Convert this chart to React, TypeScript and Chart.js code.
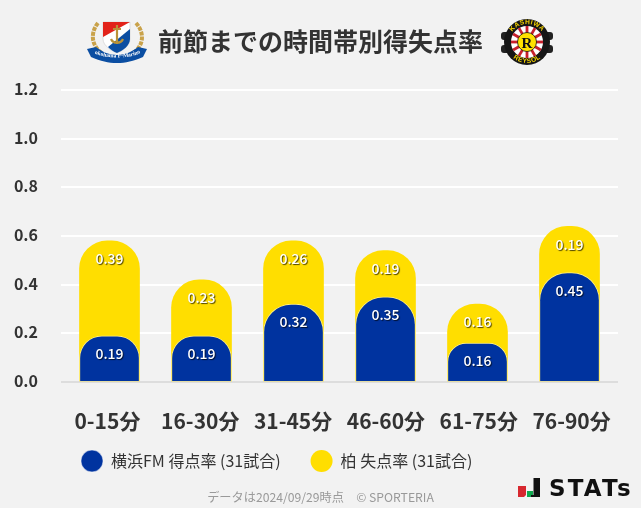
import React, { useEffect, useRef } from "react";
import { Chart, registerables } from "chart.js";

Chart.register(...registerables);

const categories = ["0-15分", "16-30分", "31-45分", "46-60分", "61-75分", "76-90分"];
const scored = [0.19, 0.19, 0.32, 0.35, 0.16, 0.45];
const conceded = [0.39, 0.23, 0.26, 0.19, 0.16, 0.19];
const scoredName = "横浜FM 得点率 (31試合)";
const concededName = "柏 失点率 (31試合)";
const titleText = "前節までの時間帯別得失点率";
const footerText = "データは2024/09/29時点　© SPORTERIA";

const FONT = '"Noto Sans CJK JP", "Noto Sans", sans-serif';
const BG = "#f2f2f2";
const BLUE = "#00339f";
const YELLOW = "#ffde00";
const INK = "#333333";
const BAR_INSET = 2.5;

const valueLabels = {
  id: "valueLabels",
  afterLayout(chart: any) {
    chart.legend.left = 51;
    chart.legend.top = 423;
    // The bars sit on a slightly tighter pitch than the category labels.
    const x = chart.scales.x;
    x._startPixel += BAR_INSET;
    x._endPixel -= BAR_INSET;
    x._length -= BAR_INSET * 2;
  },
  afterDatasetsUpdate(chart: any) {
    chart.scales.x.configure();
  },
  afterDatasetsDraw(chart: any) {
    const { ctx } = chart;
    chart.data.datasets.forEach((ds: any, i: number) => {
      const meta = chart.getDatasetMeta(i);
      meta.data.forEach((bar: any, j: number) => {
        const text = ds.labelValues[j].toFixed(2);
        ctx.save();
        ctx.font = `500 14px ${FONT}`;
        ctx.textAlign = "center";
        ctx.textBaseline = "middle";
        ctx.shadowColor = "rgba(0,0,0,0.7)";
        ctx.shadowBlur = 1;
        ctx.shadowOffsetX = 1;
        ctx.shadowOffsetY = 1;
        ctx.fillStyle = "#ffffff";
        ctx.fillText(text, bar.x, bar.y + 18);
        ctx.restore();
      });
    });
  },
};

function YokohamaLogo() {
  return (
    <svg width="64" height="48" viewBox="0 0 64 48" style={{ position: "absolute", left: 86, top: 19 }}>
      <path d="M12 4 C4 14 5 27 17 35 M50 4 C59 14 58 27 46 35" fill="none" stroke="#c9a24a" strokeWidth="4" strokeDasharray="4 1" />
      <path d="M17 3 H44 V20 C44 27 36 32 31 34 C26 32 17 27 17 20 Z" fill="#ffffff" stroke="#ccc" strokeWidth="0.6" />
      <path d="M17 3 H44 L17 18 Z" fill="#e2231a" />
      <path d="M44 10 V20 C44 27 36 32 31 34 C28 33 24 30 22 28 Z" fill="#0b4ea2" />
      <path d="M31 6 V25 M25 20 C27 25 35 25 37 20 M27 10 H35" fill="none" stroke="#b99238" strokeWidth="2.2" />
      <path d="M1 30 L10 28 C16 33 24 36 31 36 C38 36 46 33 52 28 L61 30 L57 38 C47 42 40 44 31 44 C22 44 15 42 5 38 Z" fill="#0b4ea2" />
      <path id="ymRibbon" d="M8 34 C18 40 44 40 54 34" fill="none" />
      <text fontFamily="Liberation Serif" fontWeight="700" fontSize="5.6" fill="#ffffff">
        <textPath href="#ymRibbon" startOffset="50%" textAnchor="middle">Yokohama F·Marinos</textPath>
      </text>
    </svg>
  );
}

function KashiwaLogo() {
  const rays = [0, 30, 60, 90, 120, 150];
  return (
    <svg width="56" height="52" viewBox="0 0 56 52" style={{ position: "absolute", left: 499, top: 17 }}>
      <rect x="2" y="15" width="52" height="8" rx="3" fill="#222" />
      <rect x="2" y="28" width="52" height="8" rx="3" fill="#222" />
      <circle cx="28" cy="25" r="23" fill="#161616" />
      <path id="ksTop" d="M10 25 A18 18 0 0 1 46 25" fill="none" />
      <path id="ksBottom" d="M7 25 A21 21 0 0 0 49 25" fill="none" />
      <text fontFamily="Liberation Sans" fontWeight="700" fontSize="6.6" fill="#f5d400" letterSpacing="0.5">
        <textPath href="#ksTop" startOffset="50%" textAnchor="middle">KASHIWA</textPath>
      </text>
      <text fontFamily="Liberation Sans" fontWeight="700" fontSize="6.6" fill="#f5d400" letterSpacing="0.5">
        <textPath href="#ksBottom" startOffset="50%" textAnchor="middle">REYSOL</textPath>
      </text>
      <circle cx="28" cy="25" r="16" fill="#ffffff" />
      {rays.map((a) => (
        <rect key={a} x="12" y="23.6" width="32" height="2.8" fill="#c8202c" transform={`rotate(${a} 28 25)`} />
      ))}
      <circle cx="28" cy="25" r="9.5" fill="#ffe100" stroke="#111" strokeWidth="0.8" />
      <text x="28" y="30.5" textAnchor="middle" fontFamily="Liberation Serif" fontWeight="700" fontSize="15" fill="#111">R</text>
    </svg>
  );
}

export default function App() {
  const ref = useRef<HTMLCanvasElement>(null);

  useEffect(() => {
    document.body.style.margin = "0";
    document.body.style.background = BG;
    const chart = new Chart(ref.current as HTMLCanvasElement, {
      type: "bar",
      plugins: [valueLabels],
      data: {
        labels: categories,
        datasets: [
          {
            label: scoredName,
            data: scored,
            labelValues: scored,
            backgroundColor: BLUE,
            borderColor: "rgba(255,255,255,0.5)",
            borderWidth: 1,
            borderRadius: 28,
            order: 1,
          },
          {
            label: concededName,
            data: conceded.map((v, i) => Number((v + scored[i]).toFixed(2))),
            labelValues: conceded,
            backgroundColor: YELLOW,
            borderRadius: 28,
            order: 2,
          },
        ] as any,
      },
      options: {
        responsive: false,
        animation: false,
        devicePixelRatio: 1,
        layout: { padding: { top: 90, left: 0, right: 23, bottom: 0 } },
        datasets: { bar: { grouped: false, barThickness: 60 } } as any,
        plugins: {
          tooltip: { enabled: false },
          title: { display: false },
          legend: {
            position: "bottom",
            align: "start",
            onClick: () => {},
            labels: {
              usePointStyle: true,
              pointStyle: "circle",
              pointStyleWidth: 22,
              boxHeight: 15.5,
              padding: 30,
              color: INK,
              font: { family: FONT, size: 16 },
              sort: (a: any, b: any) => a.datasetIndex - b.datasetIndex,
            },
          },
        },
        scales: {
          x: {
            grid: { display: false },
            border: { display: false },
            afterFit: (s: any) => { s.height = 70; },
            ticks: { color: INK, padding: 18, font: { family: FONT, size: 21, weight: "bold" }, maxRotation: 0, autoSkip: false },
          },
          y: {
            min: 0,
            max: 1.2,
            afterFit: (s: any) => { s.width = 61; },
            border: { display: false },
            grid: {
              drawTicks: false,
              lineWidth: 2,
              color: (c: any) => (c.tick.value === 0 ? "#dddddd" : "#ffffff"),
            },
            ticks: {
              stepSize: 0.2,
              padding: 23,
              labelOffset: -1,
              color: INK,
              font: { family: FONT, size: 16, weight: "bold" },
              callback: (v: any) => Number(v).toFixed(1),
            },
          },
        },
      } as any,
    });
    return () => chart.destroy();
  }, []);

  return (
    <div style={{ position: "relative", width: 641, height: 508, background: BG, overflow: "hidden" }}>
      <canvas ref={ref} width={641} height={508} style={{ position: "absolute", left: 0, top: 0, display: "block" }} />
      <YokohamaLogo />
      <KashiwaLogo />
      <div style={{ position: "absolute", left: 0, width: 641, top: 22, textAlign: "center", font: `bold 25px/36px ${FONT}`, color: INK }}>{titleText}</div>
      <div style={{ position: "absolute", left: 0, width: 641, top: 488, textAlign: "center", font: `12.2px/18px ${FONT}`, color: "#999999" }}>{footerText}</div>
      <svg width="24" height="22" style={{ position: "absolute", left: 517, top: 477 }}>
        <path d="M1 9 H9 V18 L7 20 H1 Z" fill="#d7282f" />
        <rect x="10" y="14" width="6" height="6" fill="#11a84f" />
        <path d="M16.5 1 H23 V20 H14 V18 H16.5 Z" fill="#111" />
      </svg>
      <div style={{ position: "absolute", left: 549, top: 474, font: `bold 23px/28px "DejaVu Sans", sans-serif`, color: "#111", letterSpacing: 2.2 }}>STATs</div>
    </div>
  );
}
